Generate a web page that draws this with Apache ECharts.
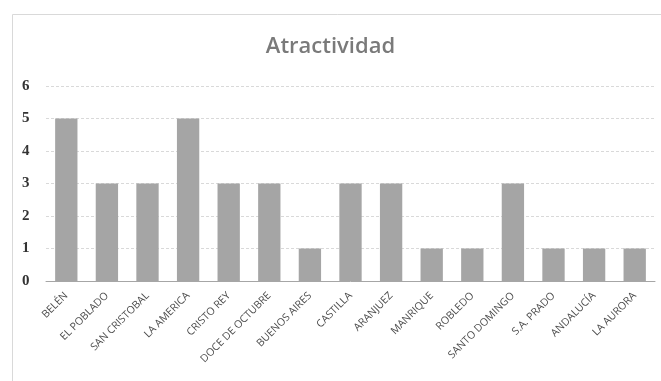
<!DOCTYPE html>
<html>
<head>
<meta charset="utf-8">
<script src="https://cdn.jsdelivr.net/npm/echarts@6/dist/echarts.min.js"></script>
<style>
  html, body { margin: 0; padding: 0; background: #fff; }
  #chart { width: 661px; height: 381px; }
</style>
</head>
<body>
<div id="chart"></div>
<script>
// Barrios y su puntuación de atractividad
const barrios = ['BELÉN', 'EL POBLADO', 'SAN CRISTOBAL', 'LA AMERICA', 'CRISTO REY',
  'DOCE DE OCTUBRE', 'BUENOS AIRES', 'CASTILLA', 'ARANJUEZ', 'MANRIQUE', 'ROBLEDO',
  'SANTO DOMINGO', 'S.A. PRADO', 'ANDALUCÍA', 'LA AURORA'];
const atractividad = [5, 3, 3, 5, 3, 3, 1, 3, 3, 1, 1, 3, 1, 1, 1];
const yTicks = [0, 1, 2, 3, 4, 5, 6];

const chart = echarts.init(document.getElementById('chart'));
chart.setOption({
  animation: false,
  title: {
    text: 'Atractividad',
    left: 'center',
    top: 31,
    textStyle: { fontFamily: 'Open Sans', fontSize: 22, fontWeight: 600, color: '#7a7a7a' }
  },
  graphic: [{
    type: 'rect',
    shape: { x: 12.5, y: 14.5, width: 700, height: 400 },
    style: { fill: 'none', stroke: '#d9d9d9', lineWidth: 1 },
    silent: true
  }],
  grid: { left: 46, right: 6, top: 86, bottom: 100 },
  xAxis: {
    type: 'category',
    data: barrios,
    axisLine: { lineStyle: { color: '#a6a6a6' } },
    axisTick: { show: false },
    axisLabel: {
      interval: 0, rotate: 45, margin: 13,
      fontFamily: 'Open Sans', fontSize: 10.5, color: '#4d4d4d'
    }
  },
  yAxis: {
    type: 'value',
    min: yTicks[0],
    max: yTicks[yTicks.length - 1],
    interval: 1,
    axisLine: { show: false },
    axisTick: { show: false },
    axisLabel: {
      margin: 24, align: 'left',
      fontFamily: 'Liberation Serif', fontWeight: 'bold', fontSize: 15, color: '#333'
    },
    splitLine: { lineStyle: { color: '#d9d9d9', type: [3, 2] } }
  },
  series: [{
    type: 'bar',
    data: atractividad,
    barCategoryGap: '45%',
    itemStyle: { color: '#a5a5a5' }
  }]
});
</script>
</body>
</html>
